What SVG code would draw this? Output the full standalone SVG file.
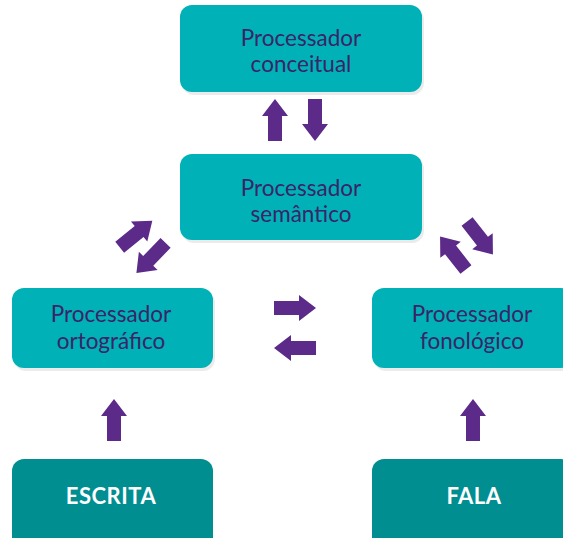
<svg xmlns="http://www.w3.org/2000/svg" width="563" height="538" viewBox="0 0 563 538">
<defs>
<style>
.box{fill:#00B1B8}
.dark{fill:#008E91}
.shadow{fill:#000;opacity:0.08}
.lbl{font-family:Lato,"Open Sans",sans-serif;font-size:22.5px;fill:#3A2566;text-anchor:middle}
.bold{font-family:Lato,"Open Sans",sans-serif;font-size:22px;font-weight:bold;fill:#FFFFFF;text-anchor:middle;letter-spacing:0.5px}
.arr{fill:#5C2A88}
</style>
<path id="a" d="M-21,-7 H4 V-13 L21,0 L4,13 V7 H-21 Z"/>
</defs>
<rect width="563" height="538" fill="#FFFFFF"/>
<g id="conceitual">
<rect class="shadow" x="182" y="8" width="242" height="87" rx="12"/>
<rect class="box" x="180" y="5" width="242" height="87" rx="12"/>
<text class="lbl" x="301" y="46">Processador</text>
<text class="lbl" x="301" y="72">conceitual</text>
</g>
<g id="semantico">
<rect class="shadow" x="182" y="157" width="242" height="86" rx="12"/>
<rect class="box" x="180" y="154" width="242" height="86" rx="12"/>
<text class="lbl" x="301" y="196">Processador</text>
<text class="lbl" x="301" y="222">semântico</text>
</g>
<g id="ortografico">
<rect class="shadow" x="14" y="291" width="201" height="80" rx="12"/>
<rect class="box" x="12" y="288" width="201" height="80" rx="12"/>
<text class="lbl" x="111" y="322">Processador</text>
<text class="lbl" x="111" y="349">ortográfico</text>
</g>
<g id="fonologico">
<rect class="shadow" x="374" y="291" width="201" height="80" rx="12"/>
<rect class="box" x="372" y="288" width="201" height="80" rx="12"/>
<text class="lbl" x="472" y="322">Processador</text>
<text class="lbl" x="472" y="349">fonológico</text>
</g>
<g id="escrita">
<rect class="dark" x="12" y="459" width="201" height="100" rx="12"/>
<text class="bold" x="111" y="504">ESCRITA</text>
</g>
<g id="fala">
<rect class="dark" x="372" y="459" width="201" height="100" rx="12"/>
<text class="bold" x="474" y="504">FALA</text>
</g>
<g id="connectors" class="arr">
<use href="#a" transform="translate(275,120) rotate(-90)"/>
<use href="#a" transform="translate(315,120) rotate(90)"/>
<use href="#a" transform="translate(295,308)"/>
<use href="#a" transform="translate(295,348) rotate(180)"/>
<use href="#a" transform="translate(136,234) rotate(-39)"/>
<use href="#a" transform="translate(151,258) rotate(134)"/>
<use href="#a" transform="translate(453,253) rotate(-128)"/>
<use href="#a" transform="translate(480,238) rotate(52)"/>
<use href="#a" transform="translate(114,420) rotate(-90)"/>
<use href="#a" transform="translate(473,420) rotate(-90)"/>
</g>
</svg>
